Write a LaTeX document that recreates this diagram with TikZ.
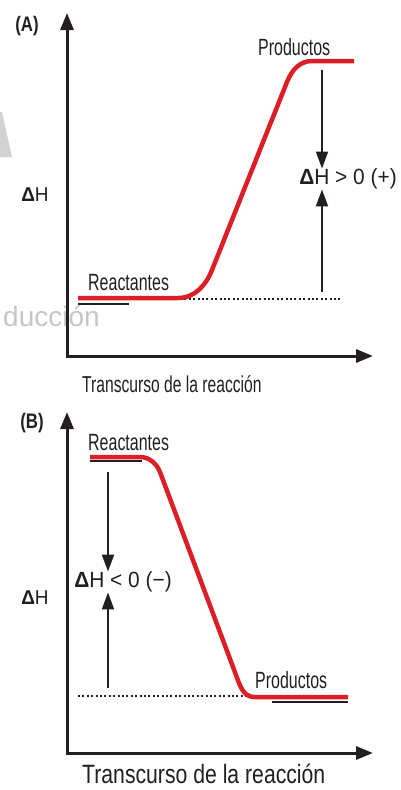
\documentclass[tikz,border=0pt]{standalone}
\usepackage{fontspec}
\setmainfont{Liberation Sans}
\newfontfamily\condfont{Liberation Sans}[FakeStretch=0.68]
\newfontfamily\semifont{Liberation Sans}[FakeStretch=0.8]
\newfontfamily\symfont{Liberation Sans}[FakeStretch=0.95]
\usetikzlibrary{arrows.meta}
\definecolor{curvered}{RGB}{220,30,38}
\definecolor{inkblack}{RGB}{35,31,32}

\tikzset{
    axis/.style={line width=3pt, draw=inkblack, {Triangle[length=17pt,width=13pt]}-{Triangle[length=17pt,width=13pt]}},
    dharrow/.style={line width=2pt, draw=inkblack, -{Triangle[length=17pt,width=12pt]}},
    enthalpy/.style={line width=4.5pt, draw=curvered, line join=round},
    level/.style={line width=2.5pt, draw=inkblack},
    refline/.style={line width=2pt, draw=inkblack, dash pattern=on 2pt off 2.4pt},
    lab/.style={font=\condfont\fontsize{23.5}{24}\selectfont, text=inkblack, inner sep=0pt, anchor=base west},
    dhlab/.style={font=\symfont\fontsize{22}{24}\selectfont, text=inkblack, inner sep=0pt},
    panel/.style={font=\semifont\bfseries\fontsize{21}{22}\selectfont, text=inkblack, inner sep=0pt}
}

\begin{document}
\begin{tikzpicture}[x=1pt,y=-1pt]
        \useasboundingbox (0,0) rectangle (400,790);
        % watermark bits
        \fill[gray!35] (0,112) -- (2,112) -- (12,157) -- (0,157) -- cycle;
        \node[anchor=base west, inner sep=0pt, text=gray!45, font=\fontsize{28}{30}\selectfont] (wm) at (3,326) {ducción};

        % panel A
        \node[panel] (panA) at (27,26) {(A)};
        \coordinate (oA) at (67,356);
        \draw[axis] (67,13) -- (oA) -- (373,356); % edit here for the axis
        \node[dhlab, font=\symfont\fontsize{20}{20}\selectfont] (dHA) at (35,195) {\textbf{Δ}H};
        \draw[level] (78,304) -- (129,304);
        \draw[refline] (180,299) -- (340,299);
        \draw[enthalpy] (78,298) -- (178,298) .. controls (195,298) and (206,285) .. (212,270)
            -- (287,82) .. controls (292,69.5) and (300,61) .. (312,61) -- (354,61);
        \node[lab] (reacA) at (88,290) {Reactantes};
        \node[lab] (prodA) at (258,55) {Productos};
        \node[dhlab] (gainA) at (348,179) {\textbf{Δ}H > 0 (+)};
        \coordinate (topA) at (322,70);
        \coordinate (botA) at (322,292);
        \draw[dharrow] (topA) -- (topA |- gainA.north);
        \draw[dharrow] (botA) -- (botA |- gainA.south);
        \node[lab, font=\condfont\fontsize{23}{24}\selectfont] (timeA) at (82,392) {Transcurso de la reacción};

        % panel B
        \node[panel] (panB) at (32,423) {(B)};
        \coordinate (oB) at (67,753);
        \draw[axis] (67,412) -- (oB) -- (373,753);
        \node[dhlab, font=\symfont\fontsize{20}{20}\selectfont] (dHB) at (35,598) {\textbf{Δ}H};
        \draw[level] (90,461) -- (142,461);
        \draw[level] (272,702) -- (348,702);
        \draw[refline] (78,696) -- (247,696);
        \draw[enthalpy] (90,457) -- (140,457) .. controls (150,457) and (157,464.5) .. (160,472)
            -- (236,675) .. controls (239.5,684.4) and (243,697) .. (254,697) -- (348,697);
        \node[lab] (reacB) at (88,450) {Reactantes};
        \node[lab] (prodB) at (255,688) {Productos};
        \node[dhlab] (lossB) at (123,582) {\textbf{Δ}H < 0 (−)};
        \coordinate (topB) at (108,472);
        \coordinate (botB) at (108,688);
        \draw[dharrow] (topB) -- (topB |- lossB.north);
        \draw[dharrow] (botB) -- (botB |- lossB.south);
        \node[lab, font=\semifont\fontsize{26.5}{28}\selectfont] (timeB) at (82,783) {Transcurso de la reacción};
    \end{tikzpicture}
\end{document}
